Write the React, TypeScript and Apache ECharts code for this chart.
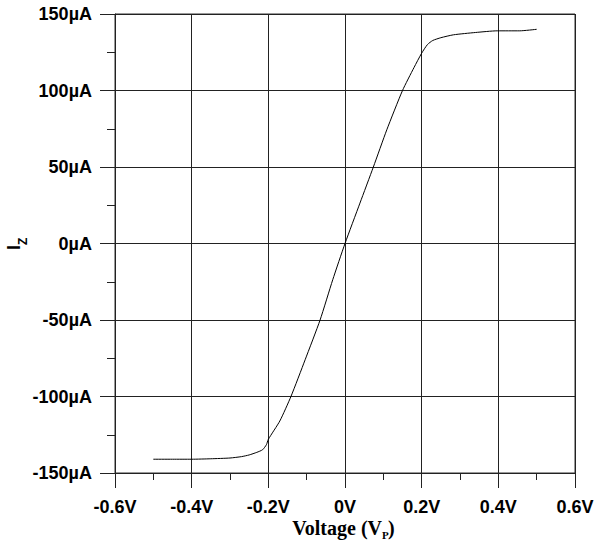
import React, { useEffect, useRef } from "react";
import * as echarts from "echarts";

const voltage = [
  -0.5, -0.45, -0.4, -0.35, -0.3, -0.27, -0.25, -0.23, -0.215, -0.205, -0.2,
  -0.17, -0.141, -0.104, -0.065, -0.032, 0, 0.039, 0.074, 0.109, 0.15, 0.18,
  0.2, 0.215, 0.229, 0.25, 0.283, 0.34, 0.397, 0.456, 0.5,
];
const current = [
  -141, -141, -141, -140.7, -140.2, -139.3, -138.2, -136.5, -134.8, -131.5, -128,
  -116, -100, -76, -50, -23.7, 0, 26.4, 50, 74.3, 100, 115,
  124.4, 130, 132.7, 134.5, 136.4, 137.9, 139, 139, 140,
];

const xTicks = { min: -0.6, max: 0.6, interval: 0.2 };
const yTicks = { min: -150, max: 150, interval: 50 };

const labelFont = "Arial, 'Liberation Sans', sans-serif";
const serifFont = "'Times New Roman', 'Liberation Serif', serif";

export default function App() {
  const ref = useRef<HTMLDivElement>(null);
  useEffect(() => {
    if (!ref.current) return;
    const chart = echarts.init(ref.current, null, { renderer: "svg" });
    const data = voltage.map((v, i) => [v, current[i]]);
    chart.setOption({
      animation: false,
      backgroundColor: "#fff",
      grid: {
        left: 115,
        right: 22,
        top: 14,
        bottom: 71,
        show: true,
        borderColor: "#333",
        borderWidth: 1,
      },
      xAxis: {
        type: "value",
        min: xTicks.min,
        max: xTicks.max,
        interval: xTicks.interval,
        axisLine: { show: true, onZero: false, lineStyle: { color: "#222", width: 1 } },
        axisTick: { show: true, length: 15, lineStyle: { color: "#222" } },
        minorTick: { show: true, splitNumber: 2, length: 7, lineStyle: { color: "#222" } },
        splitLine: { show: true, lineStyle: { color: "#222", width: 1 } },
        axisLabel: {
          margin: 25,
          fontFamily: labelFont,
          fontWeight: "bold",
          fontSize: 18,
          color: "#000",
          formatter: (v: number) => Math.round(v * 10) / 10 + "V",
        },
      },
      yAxis: {
        type: "value",
        min: yTicks.min,
        max: yTicks.max,
        interval: yTicks.interval,
        axisLine: { show: true, onZero: false, lineStyle: { color: "#222", width: 1 } },
        axisTick: { show: true, length: 15, lineStyle: { color: "#222" } },
        minorTick: { show: true, splitNumber: 2, length: 8, lineStyle: { color: "#222" } },
        splitLine: { show: true, lineStyle: { color: "#222", width: 1 } },
        axisLabel: {
          margin: 23,
          fontFamily: labelFont,
          fontWeight: "bold",
          fontSize: 18,
          color: "#000",
          formatter: (v: number) => v + "µA",
        },
      },
      graphic: [
        {
          type: "text",
          x: 382,
          y: 538,
          style: {
            text: "Voltage (V",
            fontFamily: serifFont,
            fontWeight: "bold",
            fontSize: 20,
            fill: "#000",
            textAlign: "right",
            textVerticalAlign: "bottom",
          },
        },
        {
          type: "text",
          x: 382,
          y: 540,
          style: {
            text: "P",
            fontFamily: serifFont,
            fontWeight: "bold",
            fontSize: 11,
            fill: "#000",
            textAlign: "left",
            textVerticalAlign: "bottom",
          },
        },
        {
          type: "text",
          x: 388,
          y: 538,
          style: {
            text: ")",
            fontFamily: serifFont,
            fontWeight: "bold",
            fontSize: 20,
            fill: "#000",
            textAlign: "left",
            textVerticalAlign: "bottom",
          },
        },
        {
          type: "text",
          x: 23,
          y: 250,
          rotation: Math.PI / 2,
          style: {
            text: "I",
            fontFamily: labelFont,
            fontWeight: "bold",
            fontSize: 18,
            fill: "#000",
            textAlign: "left",
            textVerticalAlign: "bottom",
          },
        },
        {
          type: "text",
          x: 29,
          y: 245,
          rotation: Math.PI / 2,
          style: {
            text: "Z",
            fontFamily: labelFont,
            fontWeight: "bold",
            fontSize: 12,
            fill: "#000",
            textAlign: "left",
            textVerticalAlign: "bottom",
          },
        },
      ],
      series: [
        {
          type: "line",
          data,
          showSymbol: false,
          symbol: "none",
          smooth: 0.2,
          lineStyle: { color: "#000", width: 1 },
        },
      ],
    });
    return () => chart.dispose();
  }, []);
  return (
    <div
      ref={ref}
      style={{ position: "fixed", left: 0, top: 0, width: 597, height: 544 }}
    />
  );
}
